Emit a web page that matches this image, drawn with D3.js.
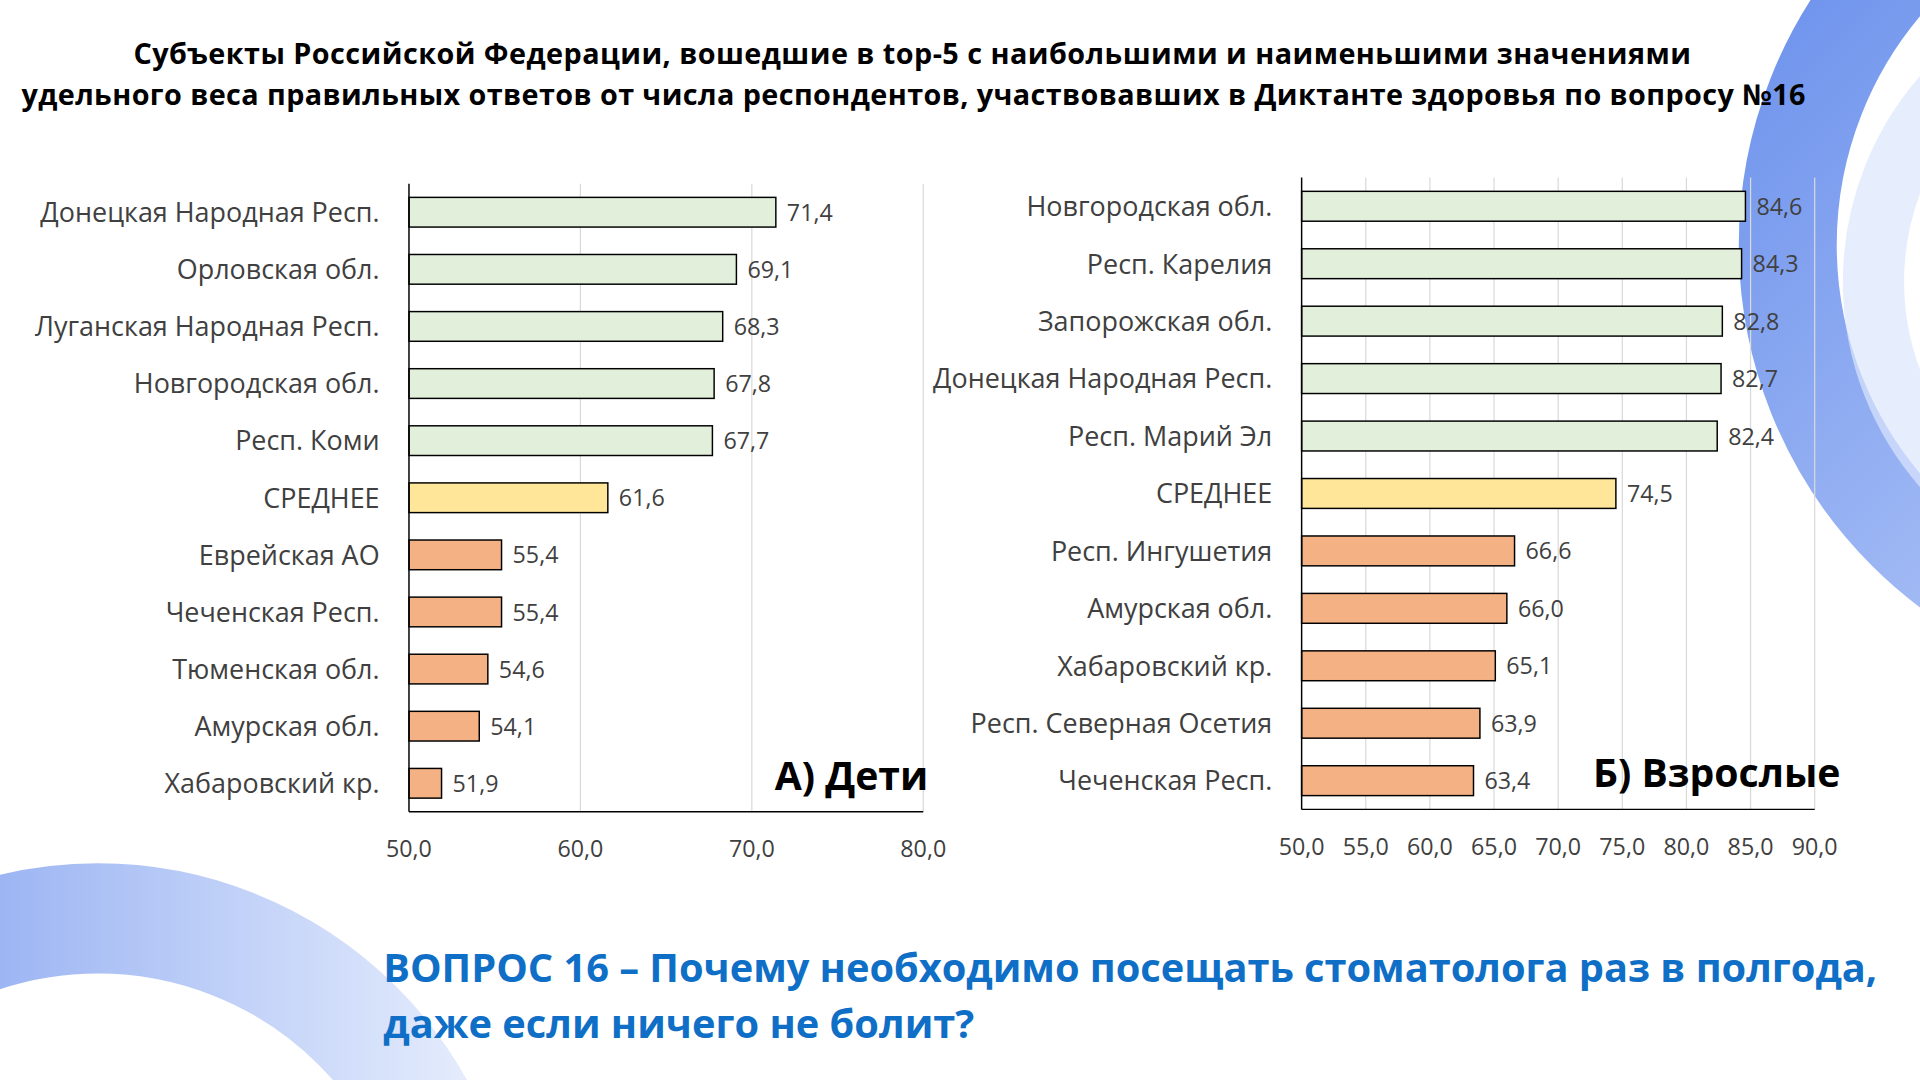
<!DOCTYPE html>
<html><head><meta charset="utf-8">
<script src="https://cdn.jsdelivr.net/npm/d3@7"></script>
<style>body{margin:0;background:#fff;overflow:hidden}svg{display:block}text{font-family:"Open Sans",sans-serif}</style>
</head><body>
<script>
const kidsCats=["Донецкая Народная Респ.","Орловская обл.","Луганская Народная Респ.","Новгородская обл.","Респ. Коми","СРЕДНЕЕ","Еврейская АО","Чеченская Респ.","Тюменская обл.","Амурская обл.","Хабаровский кр."];
const kidsVals=[71.4,69.1,68.3,67.8,67.7,61.6,55.4,55.4,54.6,54.1,51.9];
const kidsTicks=[50,60,70,80];
const adultCats=["Новгородская обл.","Респ. Карелия","Запорожская обл.","Донецкая Народная Респ.","Респ. Марий Эл","СРЕДНЕЕ","Респ. Ингушетия","Амурская обл.","Хабаровский кр.","Респ. Северная Осетия","Чеченская Респ."];
const adultVals=[84.6,84.3,82.8,82.7,82.4,74.5,66.6,66.0,65.1,63.9,63.4];
const adultTicks=[50,55,60,65,70,75,80,85,90];
const groupColors=["#e2efda","#e2efda","#e2efda","#e2efda","#e2efda","#ffe699","#f4b183","#f4b183","#f4b183","#f4b183","#f4b183"];

const svg=d3.select("body").append("svg").attr("width",1920).attr("height",1080).attr("viewBox","0 0 1568 882");
const defs=svg.append("defs");
const g1=defs.append("linearGradient").attr("id","gr1").attr("x1","0").attr("y1","0").attr("x2","1").attr("y2","1");
g1.append("stop").attr("offset","0").attr("stop-color","#4a78e8");g1.append("stop").attr("offset","1").attr("stop-color","#c9d8fb");
const g2=defs.append("linearGradient").attr("id","gr2").attr("x1","0").attr("y1","0").attr("x2","1").attr("y2","0");
g2.append("stop").attr("offset","0").attr("stop-color","#5b84ea");g2.append("stop").attr("offset","1").attr("stop-color","#dfe8fc");
svg.append("circle").attr("cx",1790).attr("cy",200).attr("r",330).attr("fill","none").attr("stroke","url(#gr1)").attr("stroke-width",80).attr("opacity",0.85);
svg.append("circle").attr("cx",1760).attr("cy",230).attr("r",230).attr("fill","none").attr("stroke","#dbe6fc").attr("stroke-width",50).attr("opacity",0.7);
svg.append("circle").attr("cx",80).attr("cy",1050).attr("r",300).attr("fill","none").attr("stroke","url(#gr2)").attr("stroke-width",90).attr("opacity",0.85);

svg.append("text").attr("x",745).attr("y",52).attr("text-anchor","middle").attr("font-size",23.5).attr("font-weight","bold").attr("fill","#000").attr("textLength",1272).text("Субъекты Российской Федерации, вошедшие в  top-5 с наибольшими и наименьшими значениями");
svg.append("text").attr("x",746).attr("y",86).attr("text-anchor","middle").attr("font-size",23.5).attr("font-weight","bold").attr("fill","#000").attr("textLength",1457).text("удельного веса правильных ответов от числа респондентов, участвовавших в Диктанте здоровья по вопросу №16");

function chart(cats,vals,ticks,x0,x1,yTop,yBot,label,labelX){
  const x=d3.scaleLinear().domain([ticks[0],ticks[ticks.length-1]]).range([x0,x1]);
  const y=d3.scaleBand().domain(cats).range([yTop,yBot]).paddingInner(0.48).paddingOuter(0.24);
  const g=svg.append("g");
  g.selectAll(".gl").data(ticks.slice(1)).join("line").attr("x1",d=>x(d)).attr("x2",d=>x(d)).attr("y1",yTop).attr("y2",yBot).attr("stroke","#d9d9d9");
  g.selectAll(".b").data(vals).join("rect").attr("x",x0).attr("y",(d,i)=>y(cats[i])).attr("width",d=>x(d)-x0).attr("height",y.bandwidth()).attr("fill",(d,i)=>groupColors[i]).attr("stroke","#000").attr("stroke-width",1.2);
  g.selectAll(".v").data(vals).join("text").attr("x",d=>x(d)+9).attr("y",(d,i)=>y(cats[i])+y.bandwidth()/2+7).attr("font-size",19).attr("fill","#404040").text(d=>d.toFixed(1).replace(".",","));
  g.selectAll(".c").data(cats).join("text").attr("x",x0-24).attr("y",d=>y(d)+y.bandwidth()/2+8).attr("text-anchor","end").attr("font-size",22).attr("fill","#404040").text(d=>d);
  g.append("line").attr("x1",x0).attr("x2",x0).attr("y1",yTop).attr("y2",yBot).attr("stroke","#000").attr("stroke-width",1.2);
  g.append("line").attr("x1",x0).attr("x2",x1).attr("y1",yBot).attr("y2",yBot).attr("stroke","#000").attr("stroke-width",1.2);
  g.selectAll(".t").data(ticks).join("text").attr("x",d=>x(d)).attr("y",yBot+37).attr("text-anchor","middle").attr("font-size",19).attr("fill","#404040").text(d=>d.toFixed(1).replace(".",","));
  g.append("text").attr("x",labelX).attr("y",yBot-18).attr("text-anchor","end").attr("font-size",32).attr("font-weight","bold").attr("fill","#000").text(label);
}
chart(kidsCats,kidsVals,kidsTicks,334,754,150,663,"А) Дети",758);
chart(adultCats,adultVals,adultTicks,1063,1482,145,661,"Б) Взрослые",1503);

svg.append("text").attr("x",313).attr("y",802).attr("font-size",32.5).attr("font-weight","bold").attr("fill","#0f6fc6").attr("textLength",1220).text("ВОПРОС 16 – Почему необходимо посещать стоматолога раз в полгода,");
svg.append("text").attr("x",313).attr("y",848).attr("font-size",32.5).attr("font-weight","bold").attr("fill","#0f6fc6").text("даже если ничего не болит?");
</script>
</body></html>
